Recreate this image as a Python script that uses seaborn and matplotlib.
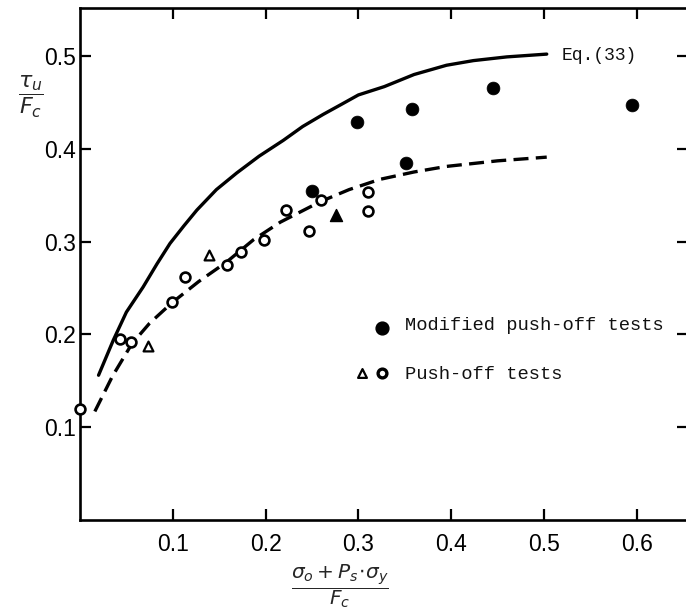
import matplotlib
matplotlib.use("Agg")
import matplotlib.pyplot as plt
import seaborn as sns
import pandas as pd

# ---------------- data ----------------
modified_x = [0.250, 0.299, 0.351, 0.358, 0.445, 0.595]
modified_y = [0.355, 0.429, 0.385, 0.443, 0.466, 0.447]

push_circle_x = [0.000, 0.043, 0.055, 0.099, 0.113, 0.158, 0.173, 0.198,
                 0.222, 0.247, 0.260, 0.310, 0.310]
push_circle_y = [0.120, 0.195, 0.192, 0.235, 0.262, 0.275, 0.289, 0.302,
                 0.334, 0.311, 0.345, 0.353, 0.333]

push_tri_x = [0.073, 0.139]
push_tri_y = [0.188, 0.286]
push_tri_filled_x = [0.276]
push_tri_filled_y = [0.329]

eq33_x = [0.020, 0.036, 0.050, 0.068, 0.083, 0.097, 0.112, 0.126, 0.147,
          0.169, 0.193, 0.219, 0.240, 0.262, 0.282, 0.300, 0.328, 0.360,
          0.395, 0.424, 0.460, 0.503]
eq33_y = [0.156, 0.194, 0.224, 0.251, 0.276, 0.298, 0.317, 0.334, 0.356,
          0.374, 0.392, 0.409, 0.424, 0.437, 0.448, 0.458, 0.467, 0.480,
          0.490, 0.495, 0.499, 0.502]

fit_x = [0.016, 0.035, 0.056, 0.075, 0.099, 0.128, 0.158, 0.187, 0.216,
         0.259, 0.290, 0.323, 0.360, 0.395, 0.450, 0.503]
fit_y = [0.117, 0.155, 0.190, 0.212, 0.234, 0.257, 0.278, 0.302, 0.321,
         0.343, 0.356, 0.367, 0.375, 0.381, 0.387, 0.391]

x_ticks = [0.1, 0.2, 0.3, 0.4, 0.5, 0.6]
x_tick_labels = ["0.1", "0.2", "0.3", "0.4", "0.5", "0.6"]
y_ticks = [0.1, 0.2, 0.3, 0.4, 0.5]
y_tick_labels = ["0.1", "0.2", "0.3", "0.4", "0.5"]

legend_labels = ["Modified push-off tests", "Push-off tests"]
curve_label = "Eq.(33)"

# ---------------- figure ----------------
sns.set_theme(style="ticks")
plt.rcParams["font.family"] = ["Liberation Sans", "DejaVu Sans"]
plt.rcParams["mathtext.fontset"] = "dejavusans"

fig = plt.figure(figsize=(6.86, 6.16), dpi=100)
ax = fig.add_axes([0.1166, 0.1558, 0.886, 0.8317])

df_eq = pd.DataFrame({"x": eq33_x, "y": eq33_y})
df_fit = pd.DataFrame({"x": fit_x, "y": fit_y})
sns.lineplot(data=df_eq, x="x", y="y", ax=ax, color="black", lw=2.4,
             sort=False, estimator=None)
sns.lineplot(data=df_fit, x="x", y="y", ax=ax, color="black", lw=2.4,
             sort=False, estimator=None, linestyle=(0, (4.5, 2.2)))

df_mod = pd.DataFrame({"x": modified_x, "y": modified_y})
df_c = pd.DataFrame({"x": push_circle_x, "y": push_circle_y})
df_t = pd.DataFrame({"x": push_tri_x, "y": push_tri_y})
df_tf = pd.DataFrame({"x": push_tri_filled_x, "y": push_tri_filled_y})

sns.scatterplot(data=df_mod, x="x", y="y", ax=ax, marker="o", s=85,
                color="black", edgecolor="black", linewidth=0.5, zorder=5)
sns.scatterplot(data=df_c, x="x", y="y", ax=ax, marker="o", s=50,
                facecolor="white", edgecolor="black", linewidth=1.9,
                zorder=5, clip_on=False)
sns.scatterplot(data=df_t, x="x", y="y", ax=ax, marker="^", s=50,
                facecolor="white", edgecolor="black", linewidth=1.6, zorder=5)
sns.scatterplot(data=df_tf, x="x", y="y", ax=ax, marker="^", s=75,
                color="black", edgecolor="black", linewidth=1.0, zorder=5)

# hand-made legend (as in the original figure)
ax.scatter([0.326], [0.207], marker="o", s=85, color="black", zorder=5)
ax.scatter([0.304], [0.158], marker="^", s=40, facecolor="white",
           edgecolor="black", linewidth=1.6, zorder=5)
ax.scatter([0.326], [0.158], marker="o", s=40, facecolor="white",
           edgecolor="black", linewidth=2.4, zorder=5)
ax.text(0.350, 0.210, legend_labels[0], family="Liberation Mono",
        fontsize=13.5, va="center", ha="left", color="#111111")
ax.text(0.350, 0.157, legend_labels[1], family="Liberation Mono",
        fontsize=13.5, va="center", ha="left", color="#111111")
ax.text(0.519, 0.500, curve_label, family="Liberation Mono",
        fontsize=13, va="center", ha="left", color="#111111")

ax.set_xlim(0, 0.655)
ax.set_ylim(0, 0.552)
ax.set_xticks(x_ticks)
ax.set_xticklabels(x_tick_labels)
ax.set_yticks(y_ticks)
ax.set_yticklabels(y_tick_labels)
ax.set_xlabel("")
ax.set_ylabel("")

for side in ["left", "right", "top", "bottom"]:
    ax.spines[side].set_visible(True)
    ax.spines[side].set_linewidth(1.9)
    ax.spines[side].set_color("black")

ax.tick_params(axis="x", which="major", direction="in", length=8, width=1.6,
               top=True, bottom=True, labelsize=16.5, pad=9, colors="black")
ax.tick_params(axis="y", which="major", direction="in", length=8, width=1.6,
               left=True, right=True, labelsize=16.5, pad=3, colors="black")
ax.grid(False)

# axis titles as fractions
fig.text(31 / 686, 1 - 97 / 616, r"$\dfrac{\tau_u}{F_c}$", fontsize=16,
         ha="center", va="center")
fig.text(340 / 686, 1 - 586 / 616,
         r"$\dfrac{\sigma_o + P_s\!\cdot\!\sigma_y}{F_c}$", fontsize=14.5,
         ha="center", va="center")

fig.savefig("out.png", dpi=100)
